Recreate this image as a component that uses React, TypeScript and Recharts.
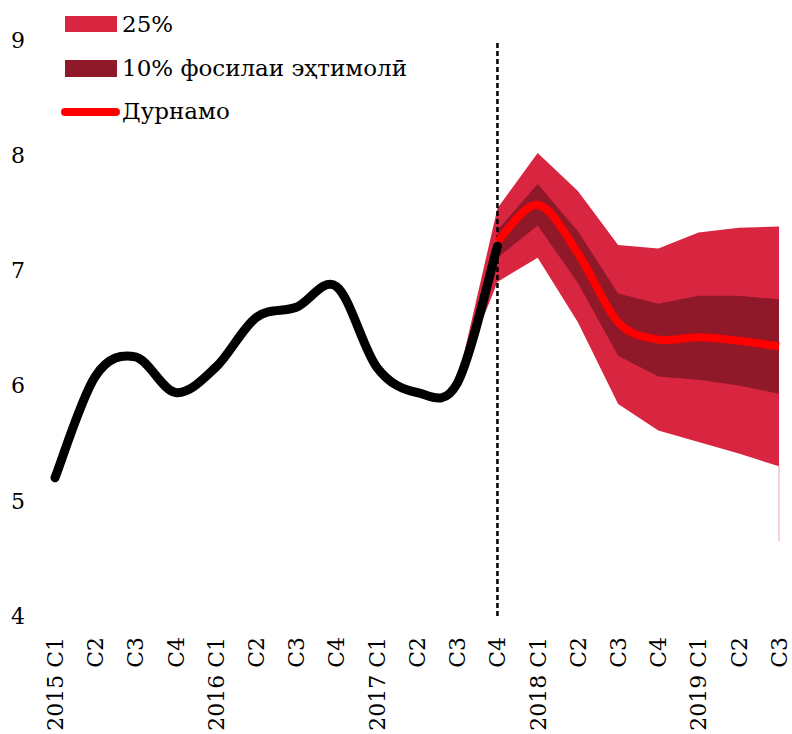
import React from 'react';
import { ComposedChart, Line, Area, XAxis, YAxis, ReferenceLine, Legend } from 'recharts';

const quarterIds = ['2015-1','2015-2','2015-3','2015-4','2016-1','2016-2','2016-3','2016-4','2017-1','2017-2','2017-3','2017-4','2018-1','2018-2','2018-3','2018-4','2019-1','2019-2','2019-3'];
const tickLabels = ['2015 C1','C2','C3','C4','2016 C1','C2','C3','C4','2017 C1','C2','C3','C4','2018 C1','C2','C3','C4','2019 C1','C2','C3'];
const actual = [5.2, 6.08, 6.25, 5.94, 6.16, 6.59, 6.68, 6.86, 6.16, 5.94, 6.02, 7.21, null, null, null, null, null, null, null];
const forecast = [null, null, null, null, null, null, null, null, null, null, null, 7.25, 7.57, 7.15, 6.55, 6.4, 6.42, 6.39, 6.34];
const outerLow = [null, null, null, null, null, null, null, null, null, null, 6.02, 6.9, 7.11, 6.55, 5.84, 5.61, 5.51, 5.41, 5.3];
const outerHigh = [null, null, null, null, null, null, null, null, null, null, 6.02, 7.54, 8.02, 7.69, 7.22, 7.19, 7.33, 7.37, 7.38];
const innerLow = [null, null, null, null, null, null, null, null, null, null, null, 7.11, 7.39, 6.89, 6.26, 6.08, 6.05, 6.0, 5.93];
const innerHigh = [null, null, null, null, null, null, null, null, null, null, null, 7.35, 7.75, 7.34, 6.8, 6.71, 6.78, 6.78, 6.75];
const yTicks = [4, 5, 6, 7, 8, 9];
const forecastStart = '2017-4';
const tailId = '2019-3';
const tailBottom = 4.65;
const legendLabels = ['25%', '10% фосилаи эҳтимолӣ', 'Дурнамо'];

const COL_OUTER = '#D92640';
const COL_INNER = '#8F1829';
const COL_FORE = '#FF0000';
const FONT = 'DejaVu Serif';

const data = quarterIds.map((id, i) => ({
  id,
  label: tickLabels[i],
  actual: actual[i],
  forecast: forecast[i],
  outer: outerLow[i] == null ? null : [outerLow[i], outerHigh[i]],
  inner: innerLow[i] == null ? null : [innerLow[i], innerHigh[i]],
}));

// Excel-like smoothing (Catmull-Rom as cubic Bezier)
const smoothCurve: any = (context: any) => {
  let xs: number[] = [];
  let ys: number[] = [];
  return {
    areaStart() {},
    areaEnd() {},
    lineStart() { xs = []; ys = []; },
    point(x: number, y: number) { xs.push(+x); ys.push(+y); },
    lineEnd() {
      const n = xs.length;
      if (!n) return;
      context.moveTo(xs[0], ys[0]);
      if (n === 1) { context.lineTo(xs[0], ys[0]); return; }
      for (let i = 0; i < n - 1; i++) {
        const x0 = i > 0 ? xs[i - 1] : xs[i];
        const y0 = i > 0 ? ys[i - 1] : ys[i];
        const x1 = xs[i], y1 = ys[i];
        const x2 = xs[i + 1], y2 = ys[i + 1];
        const x3 = i + 2 < n ? xs[i + 2] : x2;
        const y3 = i + 2 < n ? ys[i + 2] : y2;
        context.bezierCurveTo(
          x1 + (x2 - x0) / 6, y1 + (y2 - y0) / 6,
          x2 - (x3 - x1) / 6, y2 - (y3 - y1) / 6,
          x2, y2,
        );
      }
    },
  };
};

const XTick = (props: any) => {
  const { x, y, payload, index } = props;
  const text = tickLabels[index] ?? payload.value;
  return (
    <g transform={`translate(${x},${y})`}>
      <text transform="rotate(-90)" x={-21} y={0} dy="0.36em" textAnchor="end" fill="#000" fontSize={22} style={{ fontFamily: FONT }}>
        {text}
      </text>
    </g>
  );
};

const LegendContent = () => (
  <svg width={480} height={130} style={{ display: 'block' }}>
    <rect x={57} y={8} width={52} height={16} fill={COL_OUTER} />
    <text x={114} y={24} fontSize={23} style={{ fontFamily: FONT }} fill="#000">{legendLabels[0]}</text>
    <rect x={57} y={52} width={52} height={17} fill={COL_INNER} />
    <text x={114} y={68} fontSize={23} style={{ fontFamily: FONT }} fill="#000">{legendLabels[1]}</text>
    <line x1={57} y1={104} x2={108} y2={104} stroke={COL_FORE} strokeWidth={8} strokeLinecap="round" />
    <text x={114} y={111} fontSize={23} style={{ fontFamily: FONT }} fill="#000">{legendLabels[2]}</text>
  </svg>
);

export default function App() {
  return (
    <div style={{ padding: '8px 0 0 8px' }}>
      <style>{'body{margin:0}'}</style>
      <div style={{ width: 784, height: 726, position: 'relative' }}>
        <ComposedChart width={784} height={726} data={data} margin={{ top: 32, right: 13, bottom: 0, left: 0 }}>
          <XAxis
            dataKey="id"
            type="category"
            axisLine={false}
            tickLine={false}
            tickSize={0}
            tickMargin={0}
            interval={0}
            height={118}
            tick={<XTick />}
          />
          <YAxis
            domain={[4, 9]}
            ticks={yTicks}
            axisLine={false}
            tickLine={false}
            width={47}
            tickMargin={24}
            tick={{ fill: '#000', fontSize: 22, style: { fontFamily: FONT } }}
            allowDataOverflow
          />
          <Legend
            layout="vertical"
            align="center"
            verticalAlign="middle"
            content={<LegendContent />}
            wrapperStyle={{ position: 'absolute', top: 0, left: 0, width: 480, height: 130 }}
          />
          <Area dataKey="outer" type="linear" fill={COL_OUTER} fillOpacity={1} stroke="none" isAnimationActive={false} legendType="none" />
          <Area dataKey="inner" type="linear" fill={COL_INNER} fillOpacity={1} stroke="none" isAnimationActive={false} legendType="none" />
          <ReferenceLine
            segment={[{ x: tailId, y: tailBottom }, { x: tailId, y: outerLow[outerLow.length - 1] as number }]}
            stroke="#E8A3AD"
            strokeWidth={1}
          />
          <ReferenceLine x={forecastStart} stroke="#000" strokeWidth={2.5} strokeDasharray="5 3" />
          <Line dataKey="forecast" type={smoothCurve} stroke={COL_FORE} strokeWidth={8} dot={false} isAnimationActive={false} />
          <Line dataKey="actual" type={smoothCurve} stroke="#000" strokeWidth={9} strokeLinecap="round" dot={false} isAnimationActive={false} />
        </ComposedChart>
      </div>
    </div>
  );
}
